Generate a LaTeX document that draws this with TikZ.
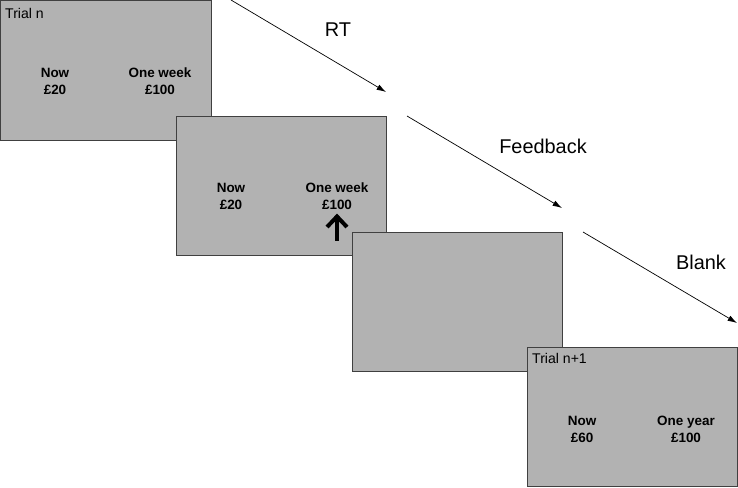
\documentclass[tikz,border=0pt]{standalone}
\usepackage{fontspec}
\setmainfont{Liberation Sans}
\usetikzlibrary{positioning,arrows,arrows.meta}

\begin{document}
\begin{tikzpicture}[x=0.03cm,y=-0.03cm,every node/.style={},
  screen/.style={draw=black!75,fill=black!30,line width=0.7pt,inner sep=0pt,
    anchor=north west,minimum width=6.3cm,minimum height=4.17cm},
  choice/.style={font=\bfseries\fontsize{11.5}{14.5}\selectfont,align=center},
  trial/.style={font=\fontsize{12}{13}\selectfont,anchor=west,inner sep=0pt},
  phase/.style={font=\fontsize{17}{19}\selectfont}]

\useasboundingbox (0,0) rectangle (738,488);

% trial n
\node[screen] (s1) at (0.5,0.5) {};
\node[trial] (t1) at (5,13) {Trial n};
\node[choice] (now1) at (55,81) {Now\\£20};
\node[choice] (later1) at (160,81) {One week\\£100};

% response
\node[screen] (s2) at (176,116) {};
\node[choice] (now2) at (231,196) {Now\\£20};
\node[choice] (later2) at (337,196) {One week\\£100};
\coordinate (pick) at (337,241);
\draw[line width=3.4pt,-{Straight Barb[length=9pt,width=17pt,line width=3.4pt]}](pick)--(later2.south);

% blank
\node[screen] (s3) at (351.5,232) {};

% trial n+1
\node[screen] (s4) at (527,347) {};
\node[trial] (t4) at (532,358) {Trial n+1};
\node[choice] (now4) at (582,429) {Now\\£60};
\node[choice] (later4) at (686,429) {One year\\£100};

% timeline
\coordinate (a1) at (231,0);
\coordinate (b1) at (386,92);
\coordinate (a2) at (407,116);
\coordinate (b2) at (562,208);
\coordinate (a3) at (583,232);
\coordinate (b3) at (737,323);
\draw[->,>={Latex[length=8pt,width=5pt]},line width=0.6pt](a1)--(b1);
\draw[->,>={Latex[length=8pt,width=5pt]},line width=0.6pt](a2)--(b2);
\draw[->,>={Latex[length=8pt,width=5pt]},line width=0.6pt](a3)--(b3);

\node[phase] (rt) at (338,30) {RT};
\node[phase] (fb) at (543,146) {Feedback};
\node[phase] (bl) at (701,262) {Blank};
\end{tikzpicture}
\end{document}
